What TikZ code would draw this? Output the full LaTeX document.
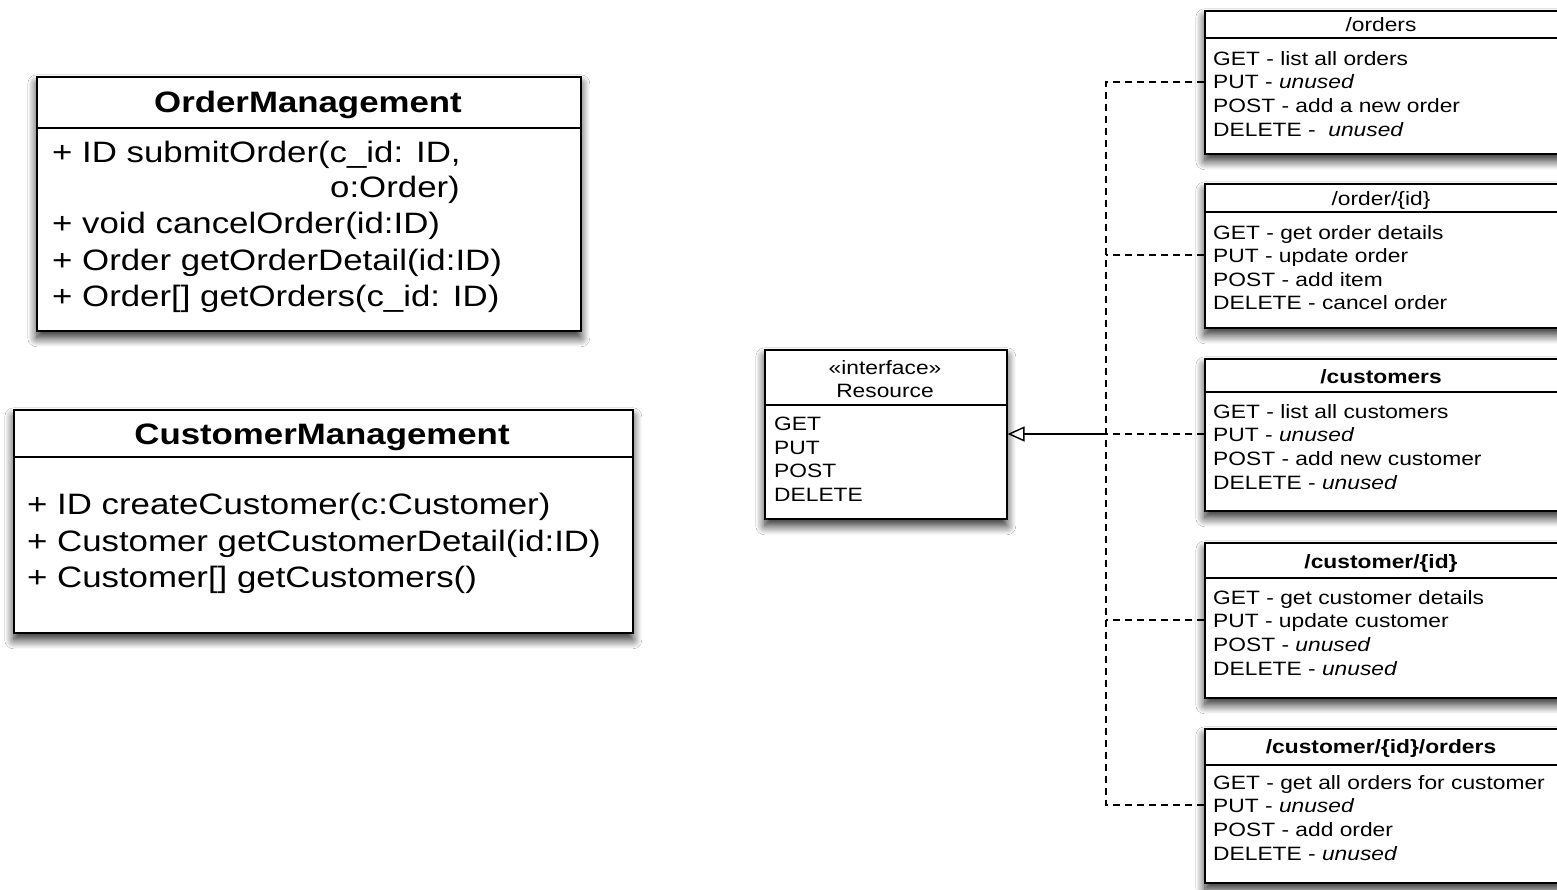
\documentclass[tikz,border=0pt]{standalone}
\usepackage{fontspec}
\setmainfont{Liberation Sans}
\newfontfamily\wide[FakeStretch=1.18]{Liberation Sans}
\usetikzlibrary{shadows.blur,arrows.meta}
\tikzset{
  umlbox/.style={draw=black, line width=1.6pt, fill=white, anchor=north west, inner sep=0pt,
    blur shadow={shadow xshift=0pt, shadow yshift=-7pt, shadow blur radius=9pt, shadow opacity=85, shadow blur steps=12}},
  sepline/.style={draw=black, line width=1.6pt},
  bigtxt/.style={anchor=base west, inner sep=0pt, font=\wide\fontsize{29.5}{34}\selectfont},
  bigtitle/.style={anchor=base, inner sep=0pt, font=\wide\bfseries\fontsize{29.5}{34}\selectfont},
  smalltxt/.style={anchor=base west, inner sep=0pt, font=\wide\fontsize{19.3}{23}\selectfont},
  smalltitle/.style={anchor=base, inner sep=0pt, font=\wide\fontsize{19.3}{23}\selectfont},
  conn/.style={draw=black, line width=1.4pt, dash pattern=on 7pt off 5pt},
  realize/.style={draw=black, line width=1.4pt, -{Triangle[open, length=17pt, width=15pt, line width=1.4pt]}},
}
\begin{document}
\begin{tikzpicture}[x=1pt, y=-1pt]
\path[use as bounding box, fill=white] (0,0) rectangle (1557,889);

% ---------- OrderManagement ----------
\node[umlbox, minimum width=544pt, minimum height=254pt] (om) at (36,76) {};
\draw[sepline] (36,128) -- (580,128);
\node[bigtitle] (omt) at (308,112.5) {OrderManagement};
\node[bigtxt] (om1) at (52,162) {+ ID submitOrder(c\_id: ID,};
\node[bigtxt] (om1b) at (330,197) {o:Order)};
\node[bigtxt] (om2) at (52,233) {+ void cancelOrder(id:ID)};
\node[bigtxt] (om3) at (52,270) {+ Order getOrderDetail(id:ID)};
\node[bigtxt] (om4) at (52,306) {+ Order[] getOrders(c\_id: ID)};

% ---------- CustomerManagement ----------
\node[umlbox, minimum width=619pt, minimum height=223pt] (cm) at (13,409) {};
\draw[sepline] (13,457) -- (632,457);
\node[bigtitle] (cmt) at (322,444.5) {CustomerManagement};
\node[bigtxt] (cm1) at (27,514) {+ ID createCustomer(c:Customer)};
\node[bigtxt] (cm2) at (27,551) {+ Customer getCustomerDetail(id:ID)};
\node[bigtxt] (cm3) at (27,587) {+ Customer[] getCustomers()};

% ---------- Resource interface ----------
\node[umlbox, minimum width=242pt, minimum height=169pt] (res) at (764,349) {};
\draw[sepline] (764,405) -- (1006,405);
\node[smalltitle] (rs1) at (885,374) {«interface»};
\node[smalltitle] (rs2) at (885,397) {Resource};
\node[smalltxt] (rg) at (774,430) {GET};
\node[smalltxt] (rp) at (774,454) {PUT};
\node[smalltxt] (rpo) at (774,477) {POST};
\node[smalltxt] (rd) at (774,501) {DELETE};

% ---------- /orders ----------
\node[umlbox, minimum width=356pt, minimum height=143pt] (b1) at (1204,10) {};
\draw[sepline] (1204,38) -- (1560,38);
\node[smalltitle] (b1t) at (1381,31) {/orders};
\node[smalltxt] (b1a) at (1213,65) {GET - list all orders};
\node[smalltxt] (b1b) at (1213,88) {PUT - \textit{unused}};
\node[smalltxt] (b1c) at (1213,112) {POST - add a new order};
\node[smalltxt] (b1d) at (1213,136) {DELETE - \ \textit{unused}};

% ---------- /order/{id} ----------
\node[umlbox, minimum width=356pt, minimum height=144pt] (b2) at (1204,183) {};
\draw[sepline] (1204,212) -- (1560,212);
\node[smalltitle] (b2t) at (1381,205) {/order/\{id\}};
\node[smalltxt] (b2a) at (1213,239) {GET - get order details};
\node[smalltxt] (b2b) at (1213,262) {PUT - update order};
\node[smalltxt] (b2c) at (1213,286) {POST - add item};
\node[smalltxt] (b2d) at (1213,309) {DELETE - cancel order};

% ---------- /customers ----------
\node[umlbox, minimum width=356pt, minimum height=152pt] (b3) at (1204,358) {};
\draw[sepline] (1204,392) -- (1560,392);
\node[smalltitle, font=\wide\bfseries\fontsize{19.3}{23}\selectfont] (b3t) at (1381,383) {/customers};
\node[smalltxt] (b3a) at (1213,418) {GET - list all customers};
\node[smalltxt] (b3b) at (1213,441) {PUT - \textit{unused}};
\node[smalltxt] (b3c) at (1213,465) {POST - add new customer};
\node[smalltxt] (b3d) at (1213,489) {DELETE - \textit{unused}};

% ---------- /customer/{id} ----------
\node[umlbox, minimum width=356pt, minimum height=155pt] (b4) at (1204,542) {};
\draw[sepline] (1204,578) -- (1560,578);
\node[smalltitle, font=\wide\bfseries\fontsize{19.3}{23}\selectfont] (b4t) at (1381,568) {/customer/\{id\}};
\node[smalltxt] (b4a) at (1213,604) {GET - get customer details};
\node[smalltxt] (b4b) at (1213,627) {PUT - update customer};
\node[smalltxt] (b4c) at (1213,651) {POST - \textit{unused}};
\node[smalltxt] (b4d) at (1213,675) {DELETE - \textit{unused}};

% ---------- /customer/{id}/orders ----------
\node[umlbox, minimum width=356pt, minimum height=154pt] (b5) at (1204,728) {};
\draw[sepline] (1204,765) -- (1560,765);
\node[smalltitle, font=\wide\bfseries\fontsize{19.3}{23}\selectfont] (b5t) at (1381,753) {/customer/\{id\}/orders};
\node[smalltxt] (b5a) at (1213,789) {GET - get all orders for customer};
\node[smalltxt] (b5b) at (1213,812) {PUT - \textit{unused}};
\node[smalltxt] (b5c) at (1213,836) {POST - add order};
\node[smalltxt] (b5d) at (1213,860) {DELETE - \textit{unused}};

% ---------- connectors ----------
\coordinate (j1) at (1106,82);
\coordinate (j2) at (1106,255);
\coordinate (j3) at (1106,434);
\coordinate (j4) at (1106,620);
\coordinate (j5) at (1106,805);
\draw[conn] (b1.west |- j1) -- (j1) -- (j5) -- (b5.west |- j5);
\draw[conn] (b2.west |- j2) -- (j2);
\draw[conn] (b3.west |- j3) -- (j3);
\draw[conn] (b4.west |- j4) -- (j4);
\draw[realize] (j3) -- (res.east |- j3);
\end{tikzpicture}
\end{document}
